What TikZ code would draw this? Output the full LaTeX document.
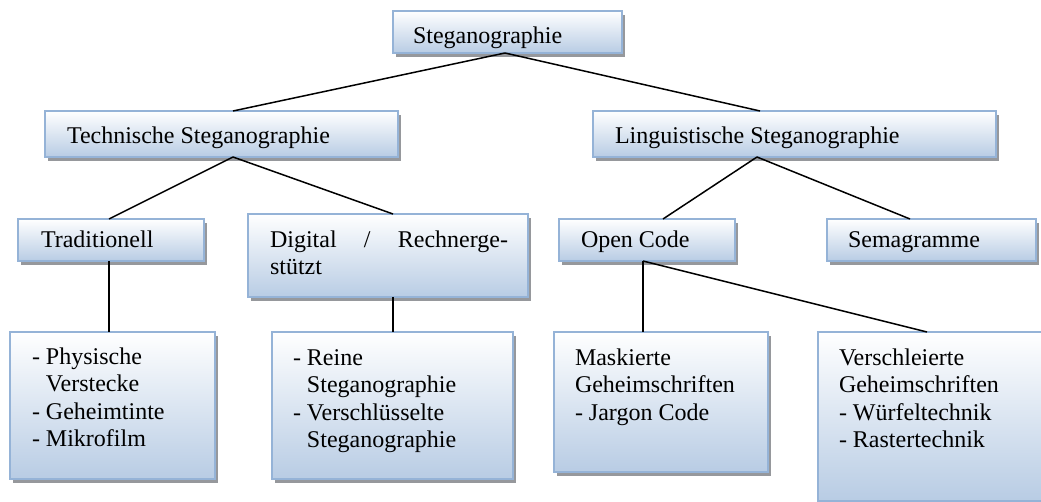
\documentclass[tikz,border=0pt]{standalone}
\usepackage{fontspec}
\setmainfont{Liberation Serif}
\usetikzlibrary{shadows,calc}
\definecolor{bord}{RGB}{149,179,215}
\definecolor{fillb}{RGB}{184,204,228}
\definecolor{shad}{RGB}{150,152,156}
\newcommand{\bt}[5]{\parbox[c][#2pt][t]{#1pt}{\vspace*{#4pt}\raggedright\leftskip=#3pt\relax\rightskip=20pt plus 1fil\relax\strut #5}}
\tikzset{
  box/.style={draw=bord, line width=1.8pt, top color=white, bottom color=fillb,
    anchor=north west, inner sep=0pt, outer sep=0pt,
    font=\fontsize{24}{27.6}\selectfont,
    drop shadow={shadow xshift=3pt, shadow yshift=-4pt, fill=shad, opacity=1}},
  conn/.style={line width=1.5pt, black}
}
\begin{document}
\begin{tikzpicture}[x=1pt,y=-1pt]
\useasboundingbox (0,0) rectangle (1041,502);
\node[box] (root) at (393,11) {\bt{229}{42}{20}{12.7}{Steganographie}};
\node[box] (tech) at (45,111) {\bt{353}{46}{22}{12.7}{Technische Steganographie}};
\node[box] (ling) at (593,111) {\bt{403}{46}{22}{12.7}{Linguistische Steganographie}};
\node[box] (trad) at (18,219) {\bt{186}{42}{23}{8.7}{Traditionell}};
\node[box] (digi) at (248,214) {\bt{280}{83}{22}{13.7}{Digital\hfill/\hfill Rechnerge-\\stützt}};
\node[box] (open) at (559,219) {\bt{176}{42}{22}{8.7}{Open Code}};
\node[box] (sema) at (827,219) {\bt{209}{42}{21}{8.7}{Semagramme}};
\node[box] (phys) at (10,332) {\bt{205}{147}{22}{12.7}{- Physische\\\phantom{- }Verstecke\\- Geheimtinte\\- Mikrofilm}};
\node[box] (rein) at (272,332) {\bt{241}{147}{21}{13.7}{- Reine\\\phantom{- }Steganographie\\- Verschlüsselte\\\phantom{- }Steganographie}};
\node[box] (mask) at (554,332) {\bt{214}{140}{21}{13.7}{Maskierte\\Geheimschriften\\- Jargon Code}};
\node[box] (vers) at (818,332) {\bt{240}{169}{21}{13.7}{Verschleierte\\Geheimschriften\\- Würfeltechnik\\- Rastertechnik}};
\draw[conn] ($(root.south west)+(112,0)$) -- ($(tech.north west)+(188,0)$);
\draw[conn] ($(root.south west)+(112,0)$) -- ($(ling.north west)+(167,0)$);
\draw[conn] ($(tech.south west)+(188,0)$) -- ($(trad.north west)+(91,0)$);
\draw[conn] ($(tech.south west)+(188,0)$) -- ($(digi.north west)+(145,0)$);
\draw[conn] ($(ling.south west)+(164,0)$) -- ($(open.north west)+(104,0)$);
\draw[conn] ($(ling.south west)+(164,0)$) -- ($(sema.north west)+(83,0)$);
\draw[conn] ($(trad.south west)+(91,0)$) -- ($(phys.north west)+(99,0)$);
\draw[conn] ($(digi.south west)+(145,0)$) -- ($(rein.north west)+(121,0)$);
\draw[conn] ($(open.south west)+(84,0)$) -- ($(mask.north west)+(89,0)$);
\draw[conn] ($(open.south west)+(84,0)$) -- ($(vers.north west)+(109,0)$);
\end{tikzpicture}
\end{document}
